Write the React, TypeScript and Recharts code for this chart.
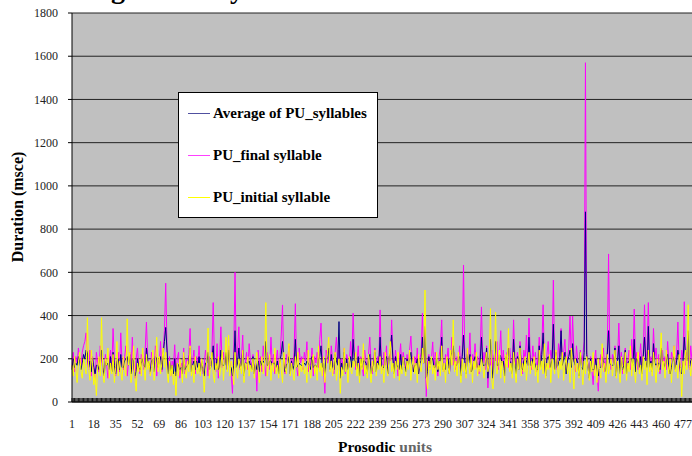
import { LineChart, Line, XAxis, YAxis, CartesianGrid, Legend } from "recharts";

// Duration (msce) per prosodic unit (484 units)
const puFinal = [
  160, 230, 140, 210, 180, 250, 200, 170, 230, 260, 280, 320, 190, 150, 240, 120, 210, 170, 100, 230,
  180, 140, 260, 200, 150, 130, 220, 170, 110, 190, 240, 150, 340, 200, 120, 170, 230, 140, 320, 180,
  150, 210, 260, 120, 180, 230, 140, 300, 170, 110, 200, 250, 160, 130, 220, 190, 150, 240, 370, 200,
  170, 130, 230, 190, 150, 260, 120, 200, 180, 280, 140, 230, 330, 550, 260, 150, 210, 120, 190, 160,
  265, 140, 200, 230, 110, 180, 150, 250, 130, 200, 170, 220, 340, 150, 190, 240, 130, 210, 180, 260,
  150, 200, 130, 170, 240, 180, 120, 210, 160, 230, 460, 190, 140, 270, 110, 200, 348, 160, 230, 180,
  210, 150, 260, 180, 130, 40, 220, 600, 170, 240, 348, 150, 200, 310, 130, 180, 230, 150, 270, 190,
  160, 220, 130, 190, 50, 240, 170, 210, 140, 260, 180, 120, 230, 200, 150, 300, 170, 220, 130, 190,
  240, 150, 200, 310, 449, 170, 130, 220, 190, 260, 140, 200, 170, 230, 455, 160, 120, 250, 180, 210,
  150, 230, 190, 279, 140, 200, 170, 250, 120, 210, 180, 230, 160, 290, 365, 200, 150, 40, 240, 180,
  210, 150, 260, 190, 130, 230, 300, 180, 240, 140, 200, 170, 250, 130, 220, 190, 160, 280, 200, 411,
  230, 150, 190, 260, 140, 210, 170, 120, 240, 190, 150, 220, 300, 170, 130, 200, 250, 160, 210, 180,
  426, 200, 150, 230, 170, 260, 130, 210, 190, 380, 220, 150, 240, 180, 120, 200, 270, 160, 230, 190,
  150, 220, 180, 240, 305, 190, 140, 210, 170, 250, 130, 200, 230, 411, 180, 250, 25, 190, 220, 160,
  200, 278, 150, 230, 180, 120, 210, 260, 380, 170, 140, 220, 190, 250, 130, 200, 300, 170, 230, 150,
  210, 180, 260, 140, 230, 634, 200, 150, 250, 180, 320, 140, 220, 190, 270, 160, 210, 130, 240, 440,
  180, 230, 150, 260, 65, 200, 170, 240, 130, 220, 190, 280, 150, 210, 330, 170, 240, 140, 200, 230,
  160, 250, 190, 140, 380, 210, 170, 230, 150, 280, 200, 130, 240, 190, 310, 170, 388, 220, 150, 260,
  180, 230, 140, 210, 300, 170, 250, 450, 190, 130, 220, 280, 160, 240, 200, 564, 180, 230, 150, 270,
  210, 340, 170, 230, 290, 150, 200, 250, 398, 180, 398, 220, 140, 260, 190, 130, 240, 170, 220, 280,
  1570, 230, 170, 120, 210, 150, 80, 190, 240, 130, 50, 180, 220, 160, 250, 140, 200, 230, 685, 190,
  150, 220, 180, 260, 140, 200, 365, 170, 230, 130, 210, 250, 160, 190, 240, 150, 290, 200, 430, 180,
  230, 150, 200, 270, 170, 220, 450, 190, 240, 460, 180, 210, 150, 340, 200, 250, 160, 220, 130, 190,
  240, 170, 210, 150, 280, 190, 130, 230, 200, 260, 160, 220, 370, 180, 130, 240, 200, 464, 170, 230,
  210, 150, 260, 190,
];

const puInitial = [
  170, 120, 210, 150, 90, 180, 230, 140, 110, 200, 160, 130, 390, 150, 100, 240, 180, 80, 130, 30,
  160, 210, 120, 390, 140, 90, 200, 170, 250, 110, 180, 130, 220, 90, 160, 280, 120, 190, 140, 100,
  210, 150, 120, 385, 170, 230, 90, 140, 260, 110, 50, 180, 140, 200, 120, 250, 170, 100, 220, 150,
  190, 120, 160, 240, 100, 180, 300, 140, 210, 130, 180, 250, 160, 230, 140, 90, 190, 120, 170, 80,
  140, 30, 180, 120, 200, 160, 90, 230, 150, 110, 190, 140, 260, 120, 170, 90, 210, 150, 130, 180,
  120, 200, 160, 45, 140, 190, 342, 110, 170, 230, 130, 90, 180, 150, 210, 120, 160, 240, 100, 180,
  300, 140, 310, 120, 190, 160, 80, 230, 150, 110, 200, 170, 130, 240, 90, 180, 150, 210, 120, 170,
  140, 200, 110, 180, 230, 150, 90, 170, 210, 130, 190, 460, 120, 160, 220, 100, 180, 140, 250, 130,
  170, 110, 200, 150, 90, 230, 160, 130, 190, 270, 120, 180, 140, 100, 210, 160, 230, 120, 170, 140,
  200, 130, 160, 90, 240, 150, 110, 190, 220, 130, 170, 100, 260, 140, 180, 120, 210, 90, 160, 230,
  300, 140, 190, 120, 170, 230, 100, 150, 200, 40, 160, 120, 250, 140, 180, 90, 210, 150, 130, 190,
  160, 230, 120, 180, 90, 200, 150, 270, 130, 170, 110, 220, 160, 90, 190, 140, 240, 120, 180, 150,
  210, 130, 170, 90, 230, 160, 120, 200, 280, 140, 180, 110, 190, 150, 230, 100, 170, 130, 210, 160,
  120, 190, 150, 240, 100, 170, 210, 130, 180, 90, 220, 160, 140, 250, 180, 518, 120, 60, 190, 150,
  210, 130, 170, 100, 230, 150, 190, 120, 260, 140, 180, 90, 210, 160, 130, 240, 170, 380, 140, 190,
  120, 230, 160, 90, 200, 140, 180, 110, 250, 170, 130, 210, 90, 190, 150, 230, 120, 170, 140, 200,
  160, 110, 190, 230, 140, 180, 432, 100, 60, 200, 415, 130, 170, 240, 110, 190, 150, 90, 220, 160,
  340, 140, 180, 110, 230, 160, 90, 200, 150, 250, 120, 180, 140, 210, 100, 170, 230, 130, 190, 150,
  210, 120, 170, 90, 240, 150, 190, 130, 270, 110, 180, 150, 220, 90, 200, 160, 130, 240, 170, 110,
  190, 150, 230, 100, 170, 210, 130, 180, 90, 250, 150, 60, 200, 140, 180, 110, 230, 160, 80, 190,
  130, 210, 160, 100, 190, 140, 230, 120, 170, 90, 200, 150, 110, 270, 140, 180, 90, 220, 130, 170,
  200, 120, 170, 240, 110, 190, 150, 90, 210, 160, 130, 230, 100, 180, 140, 260, 120, 200, 150, 90,
  180, 230, 130, 170, 100, 210, 150, 190, 80, 240, 140, 180, 120, 230, 160, 90, 200, 140, 180, 320,
  150, 190, 110, 240, 170, 130, 200, 90, 180, 260, 140, 170, 110, 220, 160, 25, 190, 130, 240, 150,
  450, 170, 120, 200,
];

const puAverage = [
  150, 200, 160, 180, 170, 210, 190, 150, 180, 220, 200, 240, 230, 160, 190, 140, 200, 160, 130, 170,
  170, 150, 200, 240, 160, 120, 190, 170, 180, 150, 210, 140, 230, 170, 130, 190, 200, 150, 220, 160,
  160, 190, 200, 210, 170, 220, 130, 200, 190, 120, 140, 200, 160, 150, 180, 200, 170, 160, 250, 190,
  180, 140, 190, 200, 140, 210, 200, 160, 190, 210, 150, 220, 280, 345, 240, 130, 190, 140, 170, 130,
  200, 120, 180, 170, 150, 160, 130, 210, 150, 160, 170, 180, 250, 140, 170, 190, 150, 190, 160, 210,
  140, 190, 150, 120, 180, 180, 230, 150, 160, 200, 260, 150, 150, 200, 150, 160, 240, 170, 170, 170,
  230, 150, 240, 160, 160, 120, 170, 330, 160, 180, 250, 160, 170, 240, 120, 180, 180, 180, 190, 170,
  150, 210, 130, 180, 150, 190, 140, 190, 170, 190, 180, 280, 170, 170, 190, 190, 170, 180, 180, 160,
  190, 130, 190, 220, 280, 190, 140, 170, 180, 210, 130, 190, 150, 170, 290, 160, 170, 180, 170, 170,
  170, 180, 170, 190, 180, 170, 150, 210, 160, 170, 170, 160, 200, 210, 260, 160, 180, 120, 200, 200,
  250, 150, 220, 160, 150, 220, 190, 170, 372, 110, 180, 150, 230, 140, 200, 150, 180, 210, 160, 290,
  190, 190, 150, 210, 120, 200, 160, 190, 190, 180, 130, 200, 220, 130, 160, 170, 230, 140, 190, 170,
  300, 170, 160, 160, 200, 210, 130, 200, 240, 310, 200, 130, 210, 160, 170, 150, 220, 150, 210, 170,
  140, 200, 170, 200, 230, 180, 140, 170, 170, 200, 130, 180, 190, 300, 180, 350, 110, 140, 210, 160,
  200, 200, 160, 160, 200, 140, 190, 190, 300, 150, 160, 150, 200, 200, 130, 210, 230, 260, 190, 170,
  170, 200, 210, 120, 210, 310, 190, 130, 220, 180, 220, 140, 150, 190, 210, 190, 160, 150, 190, 300,
  170, 170, 170, 250, 110, 190, 290, 170, 110, 210, 280, 170, 170, 220, 210, 180, 190, 120, 210, 190,
  250, 190, 180, 130, 290, 180, 130, 210, 150, 260, 160, 150, 190, 200, 190, 170, 300, 170, 170, 200,
  190, 170, 150, 150, 260, 160, 220, 320, 180, 120, 200, 210, 190, 160, 200, 360, 150, 230, 160, 180,
  200, 330, 170, 200, 230, 130, 190, 210, 240, 160, 270, 190, 170, 200, 180, 120, 230, 160, 150, 230,
  880, 220, 160, 110, 200, 150, 150, 150, 200, 150, 120, 160, 160, 210, 190, 160, 140, 220, 330, 180,
  170, 170, 170, 250, 120, 190, 260, 130, 210, 150, 170, 240, 130, 180, 190, 200, 200, 170, 290, 140,
  200, 190, 160, 210, 130, 210, 300, 190, 160, 350, 160, 190, 140, 270, 180, 170, 180, 180, 150, 250,
  190, 180, 160, 190, 220, 160, 130, 160, 190, 210, 150, 190, 240, 200, 140, 130, 190, 300, 200, 190,
  330, 160, 190, 200,
];

const yTicks = [0, 200, 400, 600, 800, 1000, 1200, 1400, 1600, 1800];
const labelEvery = 17;

const SERIES = [
  { key: "average", name: "Average of PU_syllables", color: "#000080", legendColor: "#5050a0" },
  { key: "final", name: "PU_final syllable", color: "#ff00ff", legendColor: "#ff40ff" },
  { key: "initial", name: "PU_initial syllable", color: "#ffff00", legendColor: "#ffff00" },
];

const FONT = '"Liberation Serif", "Times New Roman", serif';

const data = puAverage.map((v, i) => ({
  unit: i + 1,
  average: v,
  final: puFinal[i],
  initial: puInitial[i],
}));

function UnitTick(props: any) {
  const { x, y, payload, index } = props;
  if (index % labelEvery !== 0) return <g />;
  return (
    <text x={x} y={y} dy={30} textAnchor="middle" fontSize={12} fill="#222" fontFamily={FONT}>
      {payload.value}
    </text>
  );
}

function LegendBox() {
  return (
    <div
      style={{
        width: 200,
        height: 126,
        boxSizing: "border-box",
        border: "1px solid #000",
        background: "#fff",
        position: "relative",
        fontFamily: FONT,
        fontWeight: "bold",
        fontSize: 15,
        color: "#000",
      }}
    >
      {SERIES.map((s, i) => (
        <div key={s.key} style={{ position: "absolute", left: 9, top: 20 + i * 42 - 9, height: 18, display: "flex", alignItems: "center", whiteSpace: "nowrap" }}>
          <div style={{ width: 22, height: 1, background: s.legendColor, marginRight: 3 }} />
          <span>{s.name}</span>
        </div>
      ))}
    </div>
  );
}

export default function App() {
  // draw order: magenta under navy under yellow
  const drawOrder = ["final", "average", "initial"];
  return (
    <div style={{ position: "absolute", left: 0, top: 0, width: 692, height: 456, background: "#fff", overflow: "hidden" }}>
      <div
        style={{
          position: "absolute",
          left: 40,
          top: -25,
          fontFamily: FONT,
          fontWeight: "bold",
          fontSize: 28,
          lineHeight: "28px",
          whiteSpace: "nowrap",
          color: "#000",
        }}
      >
        Average of PU syllables
      </div>
      <LineChart width={692} height={456} data={data} margin={{ top: 13, right: 0, bottom: 0, left: 0 }}>
        <CartesianGrid vertical={false} stroke="#222" fill="#c0c0c0" strokeDasharray="" />
        <XAxis
          dataKey="unit"
          height={54}
          interval={0}
          tickSize={-4}
          tickMargin={0}
          tickLine={{ stroke: "#111" }}
          axisLine={{ stroke: "#000" }}
          tick={<UnitTick />}
        />
        <YAxis
          width={72}
          domain={[0, 1800]}
          ticks={yTicks}
          tickSize={4}
          tickMargin={10}
          tickLine={{ stroke: "#000" }}
          axisLine={{ stroke: "#000" }}
          tick={{ fontSize: 12, fill: "#222", fontFamily: FONT }}
        />
        <Legend
          layout="vertical"
          align="center"
          verticalAlign="middle"
          wrapperStyle={{ left: 178, top: 92, width: 200, height: 126 }}
          content={() => <LegendBox />}
        />
        {drawOrder.map((k) => {
          const s = SERIES.find((x) => x.key === k)!;
          return (
            <Line
              key={s.key}
              type="linear"
              dataKey={s.key}
              name={s.name}
              stroke={s.color}
              strokeWidth={1}
              dot={false}
              activeDot={false}
              isAnimationActive={false}
            />
          );
        })}
      </LineChart>
      <svg width={692} height={456} style={{ position: "absolute", left: 0, top: 0, pointerEvents: "none" }}>
        <text
          transform="translate(23,207) rotate(-90)"
          textAnchor="middle"
          fontFamily={FONT}
          fontWeight="bold"
          fontSize={16}
          fill="#000"
        >
          Duration (msce)
        </text>
        <text x={385} y={452} textAnchor="middle" fontFamily={FONT} fontWeight="bold" fontSize={15.5}>
          <tspan fill="#000">Prosodic </tspan>
          <tspan fill="#666">units</tspan>
        </text>
      </svg>
    </div>
  );
}
